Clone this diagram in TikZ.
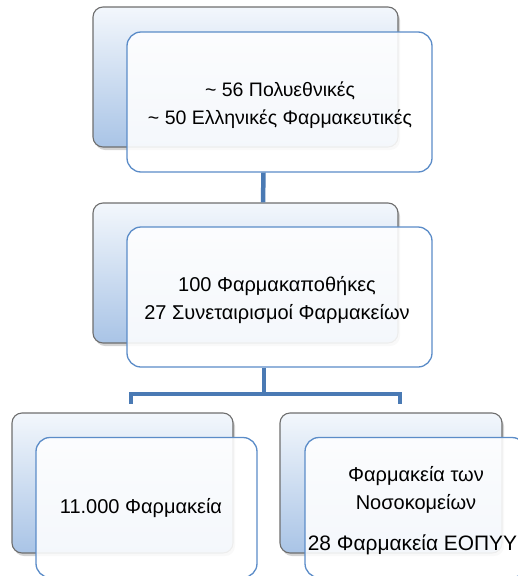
\documentclass[tikz,border=0pt]{standalone}
\usepackage{fontspec}
\setmainfont{Liberation Sans}
\usetikzlibrary{shadows,calc}
\definecolor{backtop}{HTML}{F3F7FC}
\definecolor{backbot}{HTML}{A9C4E6}
\definecolor{backline}{HTML}{6E6E6E}
\definecolor{frontline}{HTML}{5B8CC8}
\definecolor{connc}{HTML}{4A7AB4}
\begin{document}
\begin{tikzpicture}[x=1pt,y=-1pt,
  backbox/.style={draw=backline, line width=1.1pt, rounded corners=10pt,
    top color=backtop, bottom color=backbot,
    drop shadow={shadow xshift=2pt,shadow yshift=-3pt,opacity=0.35},
    minimum height=140pt, inner sep=0pt},
  frontbox/.style={draw=frontline, line width=1.3pt, rounded corners=14pt,
    fill=white, fill opacity=0.88, minimum height=140pt, inner sep=0pt},
  txt/.style={align=center, font=\txtfont, inner sep=0pt},
  conn/.style={draw=connc, line width=4.5pt}]
\newcommand\txtfont{\fontsize{20}{28}\selectfont}
\useasboundingbox (0,0) rectangle (518,576);
% back boxes
\node[backbox, minimum width=305pt] (topback) at (245.5,77) {};
\node[backbox, minimum width=305pt] (midback) at (245.5,273) {};
\node[backbox, minimum width=221pt] (lback) at (122.5,483) {};
\node[backbox, minimum width=222pt] (rback) at (391,483) {};
% front boxes
\node[frontbox, minimum width=305pt] (topfront) at (279.5,102) {};
\node[frontbox, minimum width=305pt] (midfront) at (279.5,297) {};
\node[frontbox, minimum width=221pt] (lfront) at (146.5,507.5) {};
\node[frontbox, minimum width=221pt] (rfront) at (415.5,507.5) {};
% texts
\node[txt, font=\fontsize{19.5}{28}\selectfont] (toptxt) at (280,105)
  {\textasciitilde{} 56 Πολυεθνικές\\\textasciitilde{} 50 Ελληνικές Φαρμακευτικές};
\node[txt] (midtxt) at (277,300)
  {100 Φαρμακαποθήκες\\27 Συνεταιρισμοί Φαρμακείων};
\node[txt] (ltxt) at (141,508) {11.000 Φαρμακεία};
\node[txt] (rtxt1) at (416,490) {Φαρμακεία των\\Νοσοκομείων};
\node[txt, font=\fontsize{20.9}{28}\selectfont] (rtxt2) at (412.5,545) {28 Φαρμακεία ΕΟΠΥΥ};
% connectors
\coordinate (bar) at (264,394);
\coordinate (ldrop) at ([xshift=-15.5pt,yshift=33pt]lfront.north);
\coordinate (rdrop) at ([xshift=-15.5pt,yshift=33pt]rfront.north);
\draw[conn] ([xshift=-16pt]topfront.south) -- ([xshift=17.5pt]midback.north);
\draw[conn] ([xshift=-15.5pt]midfront.south) -- (bar);
\draw[conn] (ldrop) |- (bar) -| (rdrop);
\end{tikzpicture}
\end{document}
